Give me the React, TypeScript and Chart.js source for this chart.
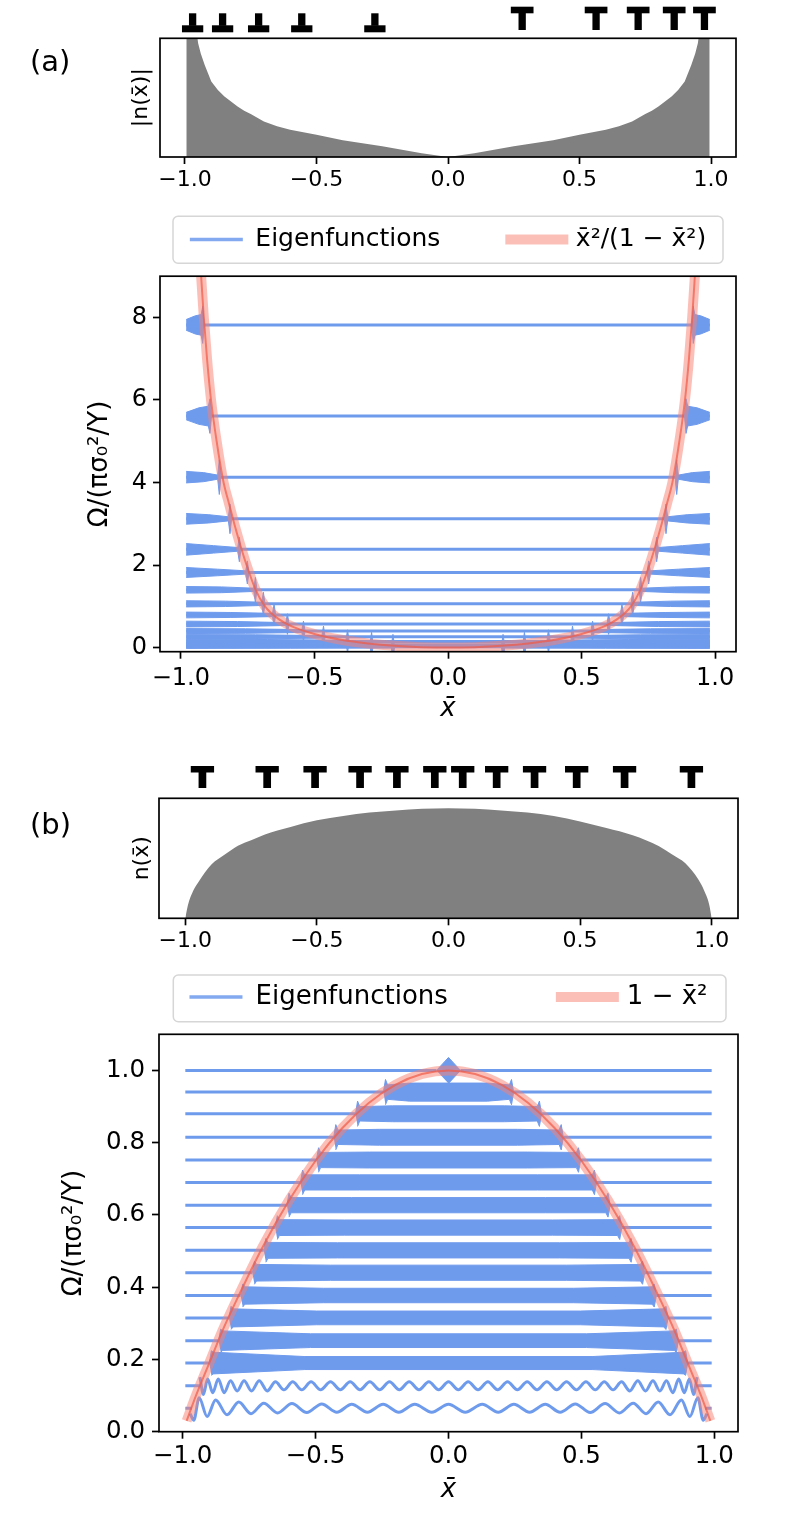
import React, { useEffect, useRef } from 'react';
import { Chart, registerables } from 'chart.js';

Chart.register(...registerables);
const FAMILY = "'DejaVu Sans'";
Chart.defaults.font.family = FAMILY;
Chart.defaults.color = '#000';

// ---------------- data ----------------
const X_TICKS = [-1.0, -0.5, 0.0, 0.5, 1.0];
const A_Y_TICKS = [0, 2, 4, 6, 8];
const B_Y_TICKS = [0.0, 0.2, 0.4, 0.6, 0.8, 1.0];

const A_LEGEND = ['Eigenfunctions', 'x\u0304\u00B2/(1 \u2212 x\u0304\u00B2)'];
const B_LEGEND = ['Eigenfunctions', '1 \u2212 x\u0304\u00B2'];

// dislocation markers (x positions)
const A_DISLOC_BOTTOM = [-0.971, -0.857, -0.72, -0.556, -0.278]; // ⊥
const A_DISLOC_TOP = [0.282, 0.563, 0.723, 0.86, 0.975]; // T
const B_DISLOC_TOP = [-0.935, -0.689, -0.507, -0.336, -0.196, -0.052, 0.054, 0.183, 0.327, 0.487, 0.669, 0.923];

// |n(x)| (panel a, top)
const A_DENSITY_X = [-0.995, -0.97, -0.95, -0.94, -0.925, -0.9, -0.875, -0.85, -0.8, -0.775, -0.75, -0.7, -0.65, -0.6, -0.5, -0.4, -0.3, -0.25, -0.1, 0, 0.1, 0.25, 0.3, 0.4, 0.5, 0.6, 0.65, 0.7, 0.75, 0.775, 0.8, 0.85, 0.875, 0.9, 0.925, 0.94, 0.95, 0.97, 0.995];
const A_DENSITY_Y = [12, 4.0, 2.97, 2.7, 2.4, 1.97, 1.75, 1.58, 1.32, 1.21, 1.12, 0.93, 0.8, 0.71, 0.58, 0.44, 0.33, 0.28, 0.1, 0, 0.1, 0.28, 0.33, 0.44, 0.58, 0.71, 0.8, 0.93, 1.12, 1.21, 1.32, 1.58, 1.75, 1.97, 2.4, 2.7, 2.97, 4.0, 12];

// n(x) (panel b, top)
const B_DENSITY_X = [-1, -0.99, -0.97, -0.95, -0.9, -0.85, -0.8, -0.75, -0.7, -0.6, -0.5, -0.4, -0.3, -0.2, -0.1, 0, 0.1, 0.2, 0.3, 0.4, 0.5, 0.6, 0.7, 0.75, 0.8, 0.85, 0.9, 0.95, 0.97, 0.99, 1];
const B_DENSITY_Y = [0, 0.12, 0.25, 0.33, 0.49, 0.58, 0.66, 0.71, 0.76, 0.83, 0.89, 0.93, 0.96, 0.98, 0.995, 1.0, 0.995, 0.98, 0.96, 0.93, 0.88, 0.82, 0.755, 0.71, 0.655, 0.58, 0.5, 0.35, 0.26, 0.13, 0];

// reference curve x^2/(1-x^2) (positive half, mirrored)
const A_CURVE_X = [0, 0.1, 0.2, 0.3, 0.4, 0.5, 0.58, 0.64, 0.685, 0.72, 0.754, 0.778, 0.8, 0.82, 0.84, 0.866, 0.887, 0.902, 0.914, 0.924, 0.932];
const A_CURVE_Y = [0, 0.01, 0.042, 0.1, 0.19, 0.33, 0.5, 0.72, 1.0, 1.4, 2.0, 2.5, 3.0, 3.5, 4.0, 5.0, 6.0, 7.0, 8.0, 9.0, 9.8];

// reference curve 1-x^2 (positive half, mirrored)
const B_CURVE_X = [0, 0.1, 0.2, 0.3, 0.4, 0.5, 0.6, 0.7, 0.8, 0.85, 0.9, 0.95, 0.985];
const B_CURVE_Y = [1.0, 0.99, 0.96, 0.91, 0.84, 0.75, 0.64, 0.51, 0.36, 0.28, 0.19, 0.1, 0.03];

// panel (a) eigenfunctions: level, turning point, envelope half-widths, spike half-height
const A_EDGE = 0.98;
const A_LEVELS = [7.82, 5.61, 4.13, 3.12, 2.38, 1.82, 1.40, 1.06, 0.79, 0.57, 0.40, 0.26, 0.15, 0.07, 0.02];
const A_TURN = [0.912, 0.885, 0.85, 0.81, 0.775, 0.745, 0.715, 0.685, 0.645, 0.595, 0.535, 0.46, 0.37, 0.28, 0.2];
const A_AMP_EDGE = [0.13, 0.09, 0.14, 0.13, 0.14, 0.12, 0.08, 0.075, 0.07, 0.07, 0.06, 0.055, 0.05, 0.045, 0.04];
const A_AMP_MID = [0.22, 0.2, 0.11, 0.1, 0.09, 0.08, 0.07, 0.065, 0.06, 0.06, 0.055, 0.05, 0.045, 0.04, 0.035];
const A_AMP_NEAR = [0.25, 0.24, 0.05, 0.05, 0.045, 0.04, 0.04, 0.04, 0.04, 0.035, 0.035, 0.03, 0.03, 0.03, 0.03];
const A_SPIKE = [0.45, 0.42, 0.42, 0.36, 0.3, 0.28, 0.3, 0.28, 0.26, 0.25, 0.24, 0.26, 0.28, 0.3, 0.3];

// panel (b) eigenfunctions
const B_EDGE = 0.99;
const B_LEVELS = [1.0, 0.94, 0.88, 0.815, 0.752, 0.69, 0.627, 0.565, 0.502, 0.44, 0.377, 0.315, 0.252, 0.19, 0.127, 0.065];
const B_TURN = [0.045, 0.245, 0.35, 0.432, 0.497, 0.557, 0.608, 0.652, 0.695, 0.738, 0.782, 0.826, 0.865, 0.9, 0.933, 0.965];
// dense-oscillation envelopes (null: level drawn otherwise)
const B_AMP = [null, 0.025, 0.022, 0.022, 0.022, 0.021, 0.021, 0.021, 0.021, 0.021, 0.02, 0.019, 0.019, 0.018, null, null];
const B_AMP_END = [null, 0.02, 0.02, 0.02, 0.021, 0.021, 0.021, 0.022, 0.022, 0.023, 0.024, 0.025, 0.027, 0.03, null, null];
const B_SPIKE = [null, 0.035, 0.035, 0.035, 0.034, 0.034, 0.033, 0.033, 0.033, 0.032, 0.032, 0.032, 0.032, 0.034, null, null];
// top level: small lens at the centre
const B_PEAK_X = [-0.045, 0, 0.045, 0];
const B_PEAK_Y = [1.0, 1.036, 1.0, 0.964];
// level 0.127: visible wave (extrema, positive half, mirrored)
const B_WAVE2_X = [0, 0.037, 0.074, 0.111, 0.148, 0.185, 0.222, 0.259, 0.296, 0.333, 0.37, 0.407, 0.444, 0.481, 0.517, 0.552, 0.586, 0.619, 0.651, 0.682, 0.712, 0.741, 0.769, 0.795, 0.82, 0.844, 0.866, 0.887, 0.906, 0.922, 0.935];
const B_WAVE2_Y = [0.138, 0.116, 0.138, 0.116, 0.138, 0.116, 0.138, 0.116, 0.138, 0.116, 0.138, 0.116, 0.138, 0.116, 0.138, 0.116, 0.138, 0.116, 0.138, 0.113, 0.141, 0.113, 0.141, 0.113, 0.141, 0.108, 0.146, 0.108, 0.146, 0.103, 0.151];
// lowest level 0.065: visible wave (extrema, positive half, mirrored)
const B_WAVE_X = [0, 0.063, 0.127, 0.187, 0.246, 0.305, 0.364, 0.42, 0.477, 0.533, 0.589, 0.643, 0.695, 0.743, 0.789, 0.833, 0.876, 0.908, 0.938, 0.958, 0.972];
const B_WAVE_Y = [0.076, 0.054, 0.076, 0.054, 0.076, 0.054, 0.076, 0.054, 0.077, 0.053, 0.078, 0.052, 0.079, 0.05, 0.082, 0.047, 0.088, 0.042, 0.094, 0.032, 0.05];

// ---------------- styles ----------------
const BLUE = '#6f9bed';
const BLUE_LEGEND = 'rgba(100,149,237,0.8)';
const RED_WIDE = 'rgba(250,128,114,0.5)';
const RED_THIN = 'rgba(240,90,70,0.7)';
const GRAY = '#808080';

// ---------------- helpers ----------------
type Pt = { x: number; y: number | null };
const pts = (xs: number[], ys: (number | null)[]): Pt[] => xs.map((x, i) => ({ x, y: ys[i] }));
const mirrorPts = (xs: number[], ys: number[]): Pt[] => {
  const out: Pt[] = [];
  for (let i = xs.length - 1; i >= 1; i--) out.push({ x: -xs[i], y: ys[i] });
  for (let i = 0; i < xs.length; i++) out.push({ x: xs[i], y: ys[i] });
  return out;
};
const fmtX = (v: number) => (v < 0 ? '\u2212' : '') + Math.abs(v).toFixed(1);
const common = { pointRadius: 0, pointHoverRadius: 0, clip: 0, fill: false };
const font = (size: number, style: string = 'normal') => ({ family: FAMILY, size, style });

function aBand(i: number, side: number): Pt[] {
  const E = A_LEVELS[i];
  const tp = A_TURN[i];
  const d = 0.006;
  const m = (tp + A_EDGE) / 2;
  const poly: [number, number][] = [
    [A_EDGE, E + A_AMP_EDGE[i]],
    [m, E + A_AMP_MID[i]],
    [tp + 2 * d, E + A_AMP_NEAR[i]],
    [tp + d, E + A_SPIKE[i]],
    [tp, E],
    [tp + d, E - A_SPIKE[i]],
    [tp + 2 * d, E - A_AMP_NEAR[i]],
    [m, E - A_AMP_MID[i]],
    [A_EDGE, E - A_AMP_EDGE[i]],
  ];
  return poly.map(([x, y]) => ({ x: side * x, y }));
}

function bBand(i: number): Pt[] {
  const E = B_LEVELS[i];
  const tp = B_TURN[i];
  const c = B_AMP[i] as number;
  const e = B_AMP_END[i] as number;
  const s = B_SPIKE[i] as number;
  const d = 0.008;
  const xs = [-tp, -tp + d, -tp + 2 * d, -0.6 * tp, 0.6 * tp, tp - 2 * d, tp - d, tp];
  const up = [0, s, e, c, c, e, s, 0];
  const out: Pt[] = xs.map((x, k) => ({ x, y: E + up[k] }));
  for (let k = xs.length - 2; k >= 1; k--) out.push({ x: xs[k], y: E - up[k] });
  return out;
}

function makeXScale(min: number, max: number, fontSize: number, tickPad: number, height: number, title?: { size: number; pb: number }) {
  return {
    type: 'linear',
    min,
    max,
    afterBuildTicks: (s: any) => { s.ticks = X_TICKS.map((v) => ({ value: v })); },
    afterFit: (s: any) => { s.height = height; },
    grid: { display: true, drawOnChartArea: false, drawTicks: true, tickLength: 7, tickWidth: 1.7, tickColor: '#000' },
    border: { display: false },
    ticks: { autoSkip: false, maxRotation: 0, padding: tickPad, color: '#000', font: font(fontSize), callback: (v: any) => fmtX(Number(v)) },
    title: title
      ? { display: true, text: 'x\u0304', color: '#000', font: font(title.size, 'italic'), padding: { top: 0, bottom: title.pb } }
      : { display: false },
  };
}

function makeYScale(min: number, max: number, width: number, ticks: number[] | null, fontSize: number, tickPad: number, fmt: (v: number) => string, title: { text: string; size: number; pt: number }) {
  return {
    type: 'linear',
    position: 'left',
    min,
    max,
    afterBuildTicks: ticks ? (s: any) => { s.ticks = ticks.map((v) => ({ value: v })); } : undefined,
    afterFit: (s: any) => { s.width = width; },
    grid: ticks
      ? { display: true, drawOnChartArea: false, drawTicks: true, tickLength: 7, tickWidth: 1.7, tickColor: '#000' }
      : { display: false },
    border: { display: false },
    ticks: ticks
      ? { autoSkip: false, padding: tickPad, color: '#000', font: font(fontSize), callback: (v: any) => fmt(Number(v)) }
      : { display: false },
    title: { display: true, text: title.text, color: '#000', font: font(title.size), padding: { top: title.pt, bottom: 0 } },
  };
}

const dummyRight = (width: number) => ({
  type: 'linear',
  position: 'right',
  display: true,
  grid: { display: false },
  border: { display: false },
  ticks: { display: false },
  afterFit: (s: any) => { s.width = width; },
});

const framePlugin = {
  id: 'axesFrame',
  afterDraw(chart: any) {
    const { ctx, chartArea: a } = chart;
    ctx.save();
    ctx.strokeStyle = '#000';
    ctx.lineWidth = 1.7;
    ctx.strokeRect(a.left, a.top, a.right - a.left, a.bottom - a.top);
    ctx.restore();
  },
};

function legendExtra(extra: number) {
  return {
    id: 'legendExtra',
    beforeLayout(chart: any) {
      const lg = chart.legend;
      if (lg && !lg.__wrapped) {
        const orig = lg.fit.bind(lg);
        lg.fit = function () { orig(); lg.height += extra; };
        lg.__wrapped = true;
      }
    },
  };
}

function legendFrame(dl: number, dt: number, dr: number, db: number) {
  return {
    id: 'legendFrame',
    beforeDraw(chart: any) {
      const { ctx, chartArea: a } = chart;
      const x0 = a.left + dl, x1 = a.right - dr, y0 = a.top - dt, y1 = a.top - db;
      const r = 5;
      ctx.save();
      ctx.beginPath();
      ctx.moveTo(x0 + r, y0);
      ctx.lineTo(x1 - r, y0);
      ctx.arcTo(x1, y0, x1, y0 + r, r);
      ctx.lineTo(x1, y1 - r);
      ctx.arcTo(x1, y1, x1 - r, y1, r);
      ctx.lineTo(x0 + r, y1);
      ctx.arcTo(x0, y1, x0, y1 - r, r);
      ctx.lineTo(x0, y0 + r);
      ctx.arcTo(x0, y0, x0 + r, y0, r);
      ctx.closePath();
      ctx.fillStyle = '#fff';
      ctx.fill();
      ctx.strokeStyle = '#d6d6d6';
      ctx.lineWidth = 1.5;
      ctx.stroke();
      ctx.restore();
    },
  };
}

type Geom = { tTop: number; tBottom: number; tBarW: number; tBarH: number; tStemW: number; bTop: number; bBottom: number; bBarW: number; bBarH: number; bStemW: number };

function symbolsPlugin(tops: number[], bottoms: number[], g: Geom, label: { text: string; x: number; y: number }) {
  return {
    id: 'dislocations',
    afterDraw(chart: any) {
      const { ctx, chartArea: a } = chart;
      const xs = chart.scales.x;
      ctx.save();
      ctx.fillStyle = '#000';
      tops.forEach((v) => {
        const cx = xs.getPixelForValue(v);
        ctx.fillRect(cx - g.tBarW / 2, a.top + g.tTop, g.tBarW, g.tBarH);
        ctx.fillRect(cx - g.tStemW / 2, a.top + g.tTop + g.tBarH - 0.5, g.tStemW, g.tBottom - g.tTop - g.tBarH + 0.5);
      });
      bottoms.forEach((v) => {
        const cx = xs.getPixelForValue(v);
        ctx.fillRect(cx - g.bBarW / 2, a.top + g.bBottom - g.bBarH, g.bBarW, g.bBarH);
        ctx.fillRect(cx - g.bStemW / 2, a.top + g.bTop, g.bStemW, g.bBottom - g.bBarH - g.bTop + 0.5);
      });
      ctx.font = "29px 'DejaVu Sans'";
      ctx.textAlign = 'left';
      ctx.textBaseline = 'alphabetic';
      ctx.fillText(label.text, label.x, label.y);
      ctx.restore();
    },
  };
}

function legendOptions(texts: string[], fontSize: number, padding: number) {
  return {
    display: true,
    position: 'top',
    fullSize: true,
    onClick: () => {},
    labels: {
      usePointStyle: true,
      pointStyleWidth: 53,
      padding,
      color: '#000',
      font: font(fontSize),
      generateLabels: () => [
        { text: texts[0], fontColor: '#000', strokeStyle: BLUE_LEGEND, fillStyle: BLUE_LEGEND, lineWidth: 3.5, lineCap: 'butt', pointStyle: 'line', hidden: false, datasetIndex: 2 },
        { text: texts[1], fontColor: '#000', strokeStyle: RED_WIDE, fillStyle: RED_WIDE, lineWidth: 10, lineCap: 'square', pointStyle: 'line', hidden: false, datasetIndex: 1 },
      ],
    },
  };
}

const baseOptions = {
  responsive: false,
  animation: false,
  events: [],
};

// ---------------- chart configs ----------------
const A_GEOM: Geom = { tTop: -31.6, tBottom: -8.3, tBarW: 22.7, tBarH: 6.6, tStemW: 7.3, bTop: -25, bBottom: -6, bBarW: 21.3, bBarH: 7, bStemW: 7.3 };
const B_GEOM: Geom = { tTop: -32.3, tBottom: -10.3, tBarW: 23.3, tBarH: 6.5, tStemW: 7.7, bTop: 0, bBottom: 0, bBarW: 0, bBarH: 0, bStemW: 0 };

function configA1(): any {
  return {
    type: 'line',
    data: {
      datasets: [
        { ...common, data: pts(A_DENSITY_X, A_DENSITY_Y), borderWidth: 0, fill: 'origin', backgroundColor: GRAY },
      ],
    },
    options: {
      ...baseOptions,
      layout: { padding: { top: 38.3, right: 52, bottom: 0, left: 0 } },
      plugins: { legend: { display: false }, tooltip: { enabled: false } },
      scales: {
        x: makeXScale(-1.095, 1.095, 22, 3, 43),
        y: makeYScale(0, 3.1, 160, null, 22, 0, String, { text: '|n(x\u0304)|', size: 22, pt: 128.3 }),
      },
    },
    plugins: [framePlugin, symbolsPlugin(A_DISLOC_TOP, A_DISLOC_BOTTOM, A_GEOM, { text: '(a)', x: 30, y: 71 })],
  };
}

function configA2(): any {
  const ds: any[] = [];
  const curve = mirrorPts(A_CURVE_X, A_CURVE_Y);
  ds.push({ ...common, data: curve, borderColor: RED_THIN, borderWidth: 2, order: 0, cubicInterpolationMode: 'monotone' });
  ds.push({ ...common, data: curve, borderColor: RED_WIDE, borderWidth: 10, order: 1, cubicInterpolationMode: 'monotone' });
  A_LEVELS.forEach((E, i) => {
    ds.push({ ...common, data: [{ x: -A_EDGE, y: E }, { x: A_EDGE, y: E }], borderColor: BLUE, borderWidth: 3, order: 2 });
    [1, -1].forEach((side) => {
      ds.push({ ...common, data: aBand(i, side), borderColor: BLUE, backgroundColor: BLUE, borderWidth: 1, fill: 'shape', order: 2 });
    });
  });
  return {
    type: 'line',
    data: { datasets: ds },
    options: {
      ...baseOptions,
      layout: { padding: 0 },
      plugins: { legend: legendOptions(A_LEGEND, 25, 70), tooltip: { enabled: false } },
      scales: {
        x: makeXScale(-1.078, 1.078, 24, 6, 75.3, { size: 26, pb: 2.4 }),
        y: makeYScale(-0.1, 9.0, 160, A_Y_TICKS, 24, 6, (v) => String(v), { text: '\u03A9/(\u03C0\u03C3\u2080\u00B2/Y)', size: 26, pt: 84.4 }),
        yr: dummyRight(160),
      },
    },
    plugins: [legendExtra(14.2), legendFrame(13, 60, 13, 13), framePlugin],
  };
}

function configB1(): any {
  return {
    type: 'line',
    data: {
      datasets: [
        { ...common, data: pts(B_DENSITY_X, B_DENSITY_Y), borderWidth: 0, fill: 'origin', backgroundColor: GRAY, cubicInterpolationMode: 'monotone' },
      ],
    },
    options: {
      ...baseOptions,
      layout: { padding: { top: 58.3, right: 50, bottom: 0, left: 0 } },
      plugins: { legend: { display: false }, tooltip: { enabled: false } },
      scales: {
        x: makeXScale(-1.1, 1.1, 22, 2.5, 41.7),
        y: makeYScale(0, 1.09, 159, null, 22, 0, String, { text: 'n(x\u0304)', size: 22, pt: 128.8 }),
      },
    },
    plugins: [framePlugin, symbolsPlugin(B_DISLOC_TOP, [], B_GEOM, { text: '(b)', x: 30, y: 94 })],
  };
}

function configB2(): any {
  const ds: any[] = [];
  const curve = mirrorPts(B_CURVE_X, B_CURVE_Y);
  ds.push({ ...common, data: curve, borderColor: RED_THIN, borderWidth: 2, order: 0, cubicInterpolationMode: 'monotone' });
  ds.push({ ...common, data: curve, borderColor: RED_WIDE, borderWidth: 10, order: 1, cubicInterpolationMode: 'monotone' });
  B_LEVELS.forEach((E, i) => {
    const tp = B_TURN[i];
    ds.push({
      ...common,
      data: [{ x: -B_EDGE, y: E }, { x: -tp, y: E }, { x: 0, y: null }, { x: tp, y: E }, { x: B_EDGE, y: E }],
      borderColor: BLUE,
      borderWidth: 3,
      order: 2,
    });
  });
  B_LEVELS.forEach((_E, i) => {
    if (B_AMP[i] === null) return;
    ds.push({ ...common, data: bBand(i), borderColor: BLUE, backgroundColor: BLUE, borderWidth: 1, fill: 'shape', order: 2 });
  });
  ds.push({ ...common, data: pts(B_PEAK_X, B_PEAK_Y), borderColor: BLUE, backgroundColor: BLUE, borderWidth: 1, fill: 'shape', order: 2 });
  ds.push({ ...common, data: mirrorPts(B_WAVE2_X, B_WAVE2_Y), borderColor: BLUE, borderWidth: 3, order: 2, cubicInterpolationMode: 'monotone' });
  ds.push({ ...common, data: mirrorPts(B_WAVE_X, B_WAVE_Y), borderColor: BLUE, borderWidth: 3, order: 2, cubicInterpolationMode: 'monotone' });
  return {
    type: 'line',
    data: { datasets: ds },
    options: {
      ...baseOptions,
      layout: { padding: 0 },
      plugins: { legend: legendOptions(B_LEGEND, 26, 113), tooltip: { enabled: false } },
      scales: {
        x: makeXScale(-1.089, 1.089, 24.5, 3, 76.3, { size: 26, pb: 1.8 }),
        y: makeYScale(0, 1.1, 159, B_Y_TICKS, 24.5, 7, (v) => v.toFixed(1), { text: '\u03A9/(\u03C0\u03C3\u2080\u00B2/Y)', size: 26, pt: 58.4 }),
        yr: dummyRight(159),
      },
    },
    plugins: [legendExtra(14.3), legendFrame(14.3, 59.3, 12, 12.6), framePlugin],
  };
}

// ---------------- components ----------------
function ChartCanvas(props: { make: () => any; left: number; top: number; width: number; height: number }) {
  const ref = useRef<HTMLCanvasElement | null>(null);
  useEffect(() => {
    if (!ref.current) return;
    const chart = new Chart(ref.current, props.make());
    return () => chart.destroy();
  }, []);
  const { left, top, width, height } = props;
  return (
    <canvas
      ref={ref}
      width={width}
      height={height}
      style={{ position: 'absolute', left, top, width, height, display: 'block' }}
    />
  );
}

export default function App() {
  return (
    <div style={{ position: 'fixed', left: 0, top: 0, width: 788, height: 1522, overflow: 'hidden', background: '#fff' }}>
      <ChartCanvas make={configA1} left={0} top={0} width={788} height={200} />
      <ChartCanvas make={configA2} left={0} top={157} width={896} height={570} />
      <ChartCanvas make={configB1} left={0} top={740} width={788} height={220} />
      <ChartCanvas make={configB2} left={0} top={871} width={897} height={637} />
    </div>
  );
}
